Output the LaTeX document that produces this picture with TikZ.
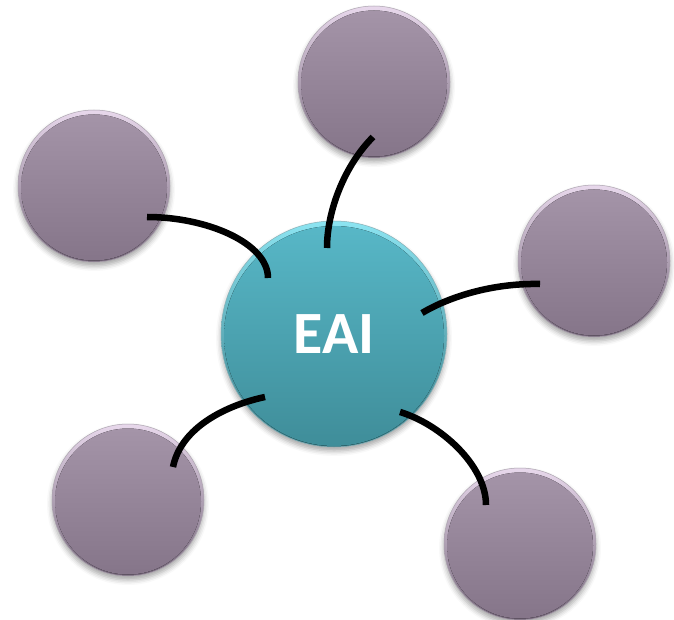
\documentclass[tikz,border=0pt]{standalone}
\usepackage{fontspec}
\newfontfamily\labelfont{Carlito}
\usetikzlibrary{calc,shadows.blur}

\definecolor{plumtop}{HTML}{A595A9}
\definecolor{plumbot}{HTML}{857589}
\definecolor{plumrim}{HTML}{E8D8EC}
\definecolor{plumedge}{HTML}{75677A}
\definecolor{tealtop}{HTML}{58B8C8}
\definecolor{tealbot}{HTML}{3F8D99}
\definecolor{tealrim}{HTML}{8CE4F1}
\definecolor{tealedge}{HTML}{357A85}

\tikzset{
  ballbase/.style={circle, inner sep=0pt, line width=0.5pt,
    blur shadow={shadow xshift=0pt, shadow yshift=-4pt,
                 shadow blur radius=5pt, shadow opacity=35}},
  plumball/.style={ballbase, minimum size=152pt, draw=plumedge!60,
    top color=plumrim, bottom color=plumedge,
    path picture={\fill[top color=plumtop, bottom color=plumbot]
      ($(path picture bounding box.center)+(0,1.5)$) circle[radius=73pt];}},
  tealball/.style={ballbase, minimum size=226pt, draw=tealedge!60,
    top color=tealrim, bottom color=tealedge,
    path picture={\fill[top color=tealtop, bottom color=tealbot]
      ($(path picture bounding box.center)+(0,2)$) circle[radius=110pt];}},
  link/.style={line width=6.5pt, draw=black, line cap=butt}
}

\begin{document}
\begin{tikzpicture}[x=1pt, y=-1pt]
  \useasboundingbox (0,0) rectangle (674,620);

  % satellite balls
  \node[plumball] (top)   at (374,82)  {};
  \node[plumball] (tl)    at (94,186)  {};
  \node[plumball] (right) at (594,261) {};
  \node[plumball] (bl)    at (128,500) {};
  \node[plumball] (br)    at (520,544) {};

  % central ball
  \node[tealball, text=white, font=\labelfont\bfseries\fontsize{60}{60}\selectfont]
    (hub) at (334,334) {EAI};

  % curved links between hub and satellites
  \coordinate (topend) at ($(top.center)+(-1,55)$);
  \coordinate (hubtop) at ($(hub.center)+(-7,-86)$);
  \draw[link] (topend) .. controls +(-28,28) and +(0,-38) .. (hubtop);

  \coordinate (tlend)  at ($(tl.center)+(53,31)$);
  \coordinate (hubtl)  at ($(hub.center)+(-66,-56)$);
  \draw[link] (tlend) .. controls +(60,0) and +(0,-35) .. (hubtl);

  \coordinate (rend)   at ($(right.center)+(-54,23)$);
  \coordinate (hubr)   at ($(hub.center)+(88,-21)$);
  \draw[link] (rend) .. controls +(-50,-1) and +(25,-15) .. (hubr);

  \coordinate (blend)  at ($(bl.center)+(45,-33)$);
  \coordinate (hubbl)  at ($(hub.center)+(-69,63)$);
  \draw[link] (blend) .. controls +(8,-40) and +(-38,8) .. (hubbl);

  \coordinate (hubbr)  at ($(hub.center)+(66,78)$);
  \coordinate (brend)  at ($(br.center)+(-34,-39)$);
  \draw[link] (hubbr) .. controls +(40,12) and +(0,-40) .. (brend);
\end{tikzpicture}
\end{document}
